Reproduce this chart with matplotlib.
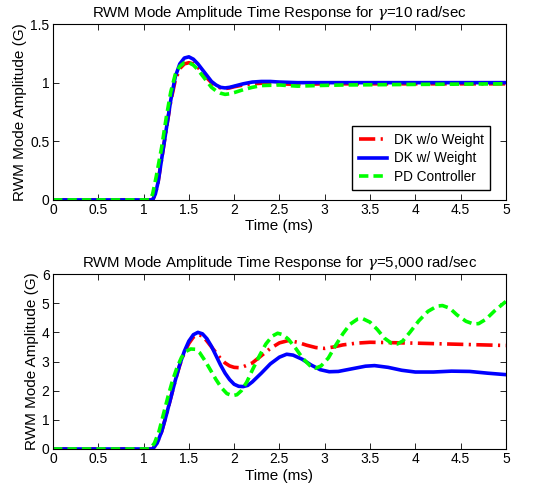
import matplotlib
matplotlib.use("Agg")
import matplotlib.pyplot as plt

plt.rcParams['font.family'] = ['Liberation Sans', 'DejaVu Sans']
plt.rcParams['mathtext.fontset'] = 'dejavuserif'

# ---- top panel (gamma = 10 rad/sec) ----
t_top_blue = [0, 1.1, 1.13, 1.16, 1.2, 1.25, 1.3, 1.35, 1.4, 1.45, 1.5, 1.55, 1.6, 1.65,
              1.7, 1.75, 1.8, 1.85, 1.9, 1.95, 2.0, 2.1, 2.2, 2.3, 2.4, 2.5, 2.7, 3.0, 4.0, 5.0]
y_top_blue = [0, 0, 0.05, 0.15, 0.35, 0.6, 0.85, 1.05, 1.16, 1.21, 1.22, 1.2, 1.16, 1.11,
              1.06, 1.01, 0.98, 0.96, 0.955, 0.96, 0.97, 0.99, 1.005, 1.01, 1.01, 1.005, 1.0, 1.0, 1.0, 1.0]

t_top_red = [0, 1.1, 1.13, 1.16, 1.2, 1.25, 1.3, 1.35, 1.4, 1.45, 1.5, 1.55, 1.6, 1.65,
             1.7, 1.75, 1.8, 1.85, 1.9, 1.95, 2.0, 2.1, 2.2, 2.3, 2.5, 2.7, 3.0, 4.0, 5.0]
y_top_red = [0, 0, 0.05, 0.15, 0.35, 0.6, 0.84, 1.02, 1.12, 1.16, 1.17, 1.16, 1.13, 1.09,
             1.04, 1.0, 0.97, 0.955, 0.95, 0.955, 0.965, 0.98, 0.99, 0.995, 0.99, 0.985, 0.99, 0.99, 0.99]

t_top_green = [0, 1.07, 1.1, 1.14, 1.2, 1.25, 1.3, 1.35, 1.4, 1.45, 1.5, 1.55, 1.6, 1.65,
               1.7, 1.75, 1.8, 1.85, 1.9, 1.95, 2.0, 2.1, 2.2, 2.3, 2.5, 2.7, 2.9, 3.2, 4.0, 5.0]
y_top_green = [0, 0, 0.05, 0.2, 0.45, 0.7, 0.92, 1.07, 1.14, 1.17, 1.17, 1.15, 1.11, 1.06,
               1.01, 0.96, 0.93, 0.91, 0.9, 0.905, 0.915, 0.94, 0.96, 0.975, 0.98, 0.97, 0.975, 0.98, 0.985, 0.99]

# ---- bottom panel (gamma = 5,000 rad/sec) ----
t_bot_blue = [0, 1.1, 1.15, 1.2, 1.25, 1.3, 1.35, 1.4, 1.45, 1.5, 1.55, 1.6, 1.65, 1.7, 1.75,
              1.8, 1.85, 1.9, 1.95, 2.0, 2.05, 2.1, 2.15, 2.2, 2.3, 2.4, 2.5, 2.58, 2.65, 2.75,
              2.85, 2.95, 3.05, 3.15, 3.3, 3.45, 3.55, 3.7, 3.85, 4.0, 4.2, 4.4, 4.6, 4.8, 5.0]
y_bot_blue = [0, 0, 0.2, 0.6, 1.15, 1.75, 2.35, 2.9, 3.35, 3.7, 3.92, 4.0, 3.95, 3.78, 3.52,
              3.2, 2.88, 2.6, 2.38, 2.22, 2.15, 2.14, 2.18, 2.3, 2.6, 2.92, 3.15, 3.25, 3.22, 3.08,
              2.88, 2.72, 2.65, 2.66, 2.75, 2.84, 2.86, 2.8, 2.7, 2.64, 2.64, 2.67, 2.66, 2.6, 2.55]

t_bot_red = [0, 1.1, 1.15, 1.2, 1.25, 1.3, 1.35, 1.4, 1.45, 1.5, 1.55, 1.6, 1.65, 1.7, 1.75,
             1.8, 1.85, 1.9, 1.95, 2.0, 2.05, 2.1, 2.2, 2.3, 2.4, 2.5, 2.6, 2.7, 2.8, 2.9,
             3.0, 3.1, 3.2, 3.35, 3.5, 3.7, 4.0, 4.5, 5.0]
y_bot_red = [0, 0, 0.2, 0.6, 1.15, 1.75, 2.35, 2.88, 3.3, 3.62, 3.84, 3.92, 3.88, 3.7, 3.5,
             3.3, 3.1, 2.95, 2.85, 2.8, 2.79, 2.82, 2.95, 3.2, 3.45, 3.64, 3.72, 3.66, 3.56, 3.48,
             3.45, 3.5, 3.57, 3.63, 3.66, 3.65, 3.63, 3.59, 3.55]

t_bot_green = [0, 1.07, 1.12, 1.17, 1.22, 1.27, 1.32, 1.37, 1.42, 1.47, 1.52, 1.57, 1.62, 1.68,
               1.74, 1.8, 1.86, 1.92, 1.98, 2.03, 2.08, 2.14, 2.2, 2.28, 2.35, 2.42, 2.48, 2.54,
               2.6, 2.68, 2.76, 2.84, 2.9, 2.96, 3.04, 3.12, 3.2, 3.28, 3.36, 3.42, 3.5, 3.58,
               3.66, 3.74, 3.8, 3.86, 3.94, 4.04, 4.14, 4.24, 4.3, 4.38, 4.46, 4.56, 4.64, 4.7,
               4.78, 4.88, 5.0]
y_bot_green = [0, 0, 0.2, 0.6, 1.2, 1.8, 2.35, 2.8, 3.15, 3.35, 3.43, 3.42, 3.3, 3.02,
               2.7, 2.38, 2.1, 1.9, 1.83, 1.86, 2.0, 2.3, 2.7, 3.2, 3.6, 3.87, 3.97, 3.92,
               3.76, 3.45, 3.1, 2.85, 2.77, 2.85, 3.12, 3.55, 3.95, 4.28, 4.45, 4.47, 4.35, 4.1,
               3.8, 3.62, 3.6, 3.7, 4.0, 4.4, 4.72, 4.9, 4.92, 4.83, 4.6, 4.38, 4.29, 4.3,
               4.45, 4.75, 5.06]

labels = ["DK w/o Weight", "DK w/ Weight", "PD Controller"]
x_ticks = [0, 0.5, 1, 1.5, 2, 2.5, 3, 3.5, 4, 4.5, 5]
x_ticklabels = ["0", "0.5", "1", "1.5", "2", "2.5", "3", "3.5", "4", "4.5", "5"]

fig = plt.figure(figsize=(5.43, 4.9), dpi=100)
ax1 = fig.add_axes([0.0976, 0.592, 0.834, 0.359])
ax2 = fig.add_axes([0.0976, 0.0837, 0.834, 0.357])

lw = 2.6
red_style = dict(color='#ff0000', lw=lw, dashes=(4.5, 1.5, 0.6, 1.5))
blue_style = dict(color='#0000ff', lw=lw, ls='-')
green_style = dict(color='#00ff00', lw=lw, dashes=(2.6, 1.4))

ax1.plot(t_top_red, y_top_red, label=labels[0], **red_style)
ax1.plot(t_top_blue, y_top_blue, label=labels[1], **blue_style)
ax1.plot(t_top_green, y_top_green, label=labels[2], **green_style)

ax2.plot(t_bot_red, y_bot_red, **red_style)
ax2.plot(t_bot_blue, y_bot_blue, **blue_style)
ax2.plot(t_bot_green, y_bot_green, **green_style)

ax1.set_ylim(0, 1.5)
ax1.set_yticks([0, 0.5, 1, 1.5])
ax1.set_yticklabels(["0", "0.5", "1", "1.5"])
ax2.set_ylim(0, 6)
ax2.set_yticks(range(7))

for ax in (ax1, ax2):
    ax.set_xlim(0, 5)
    ax.set_xticks(x_ticks)
    ax.set_xticklabels(x_ticklabels)
    ax.tick_params(direction='in', top=True, right=True, labelsize=10, length=4, width=0.6, pad=2.5)
    for s in ax.spines.values():
        s.set_linewidth(0.8)
    ax.set_xlabel("Time (ms)", fontsize=11, labelpad=1.5)
    ax.set_ylabel("RWM Mode Amplitude (G)", fontsize=11, labelpad=2)

ax1.set_title(r"RWM Mode Amplitude Time Response for $\gamma$=10 rad/sec", fontsize=10.8, pad=5)
ax2.set_title(r"RWM Mode Amplitude Time Response for $\gamma$=5,000 rad/sec", fontsize=10.8, pad=5)

leg = ax1.legend(loc='lower right', bbox_to_anchor=(0.965, 0.055), fontsize=9.8,
                 fancybox=False, framealpha=1, edgecolor='black', handlelength=2.1,
                 borderpad=0.45, labelspacing=0.35, handletextpad=0.5, borderaxespad=0)
leg.get_frame().set_linewidth(1.0)

fig.savefig("out.png", dpi=100)
